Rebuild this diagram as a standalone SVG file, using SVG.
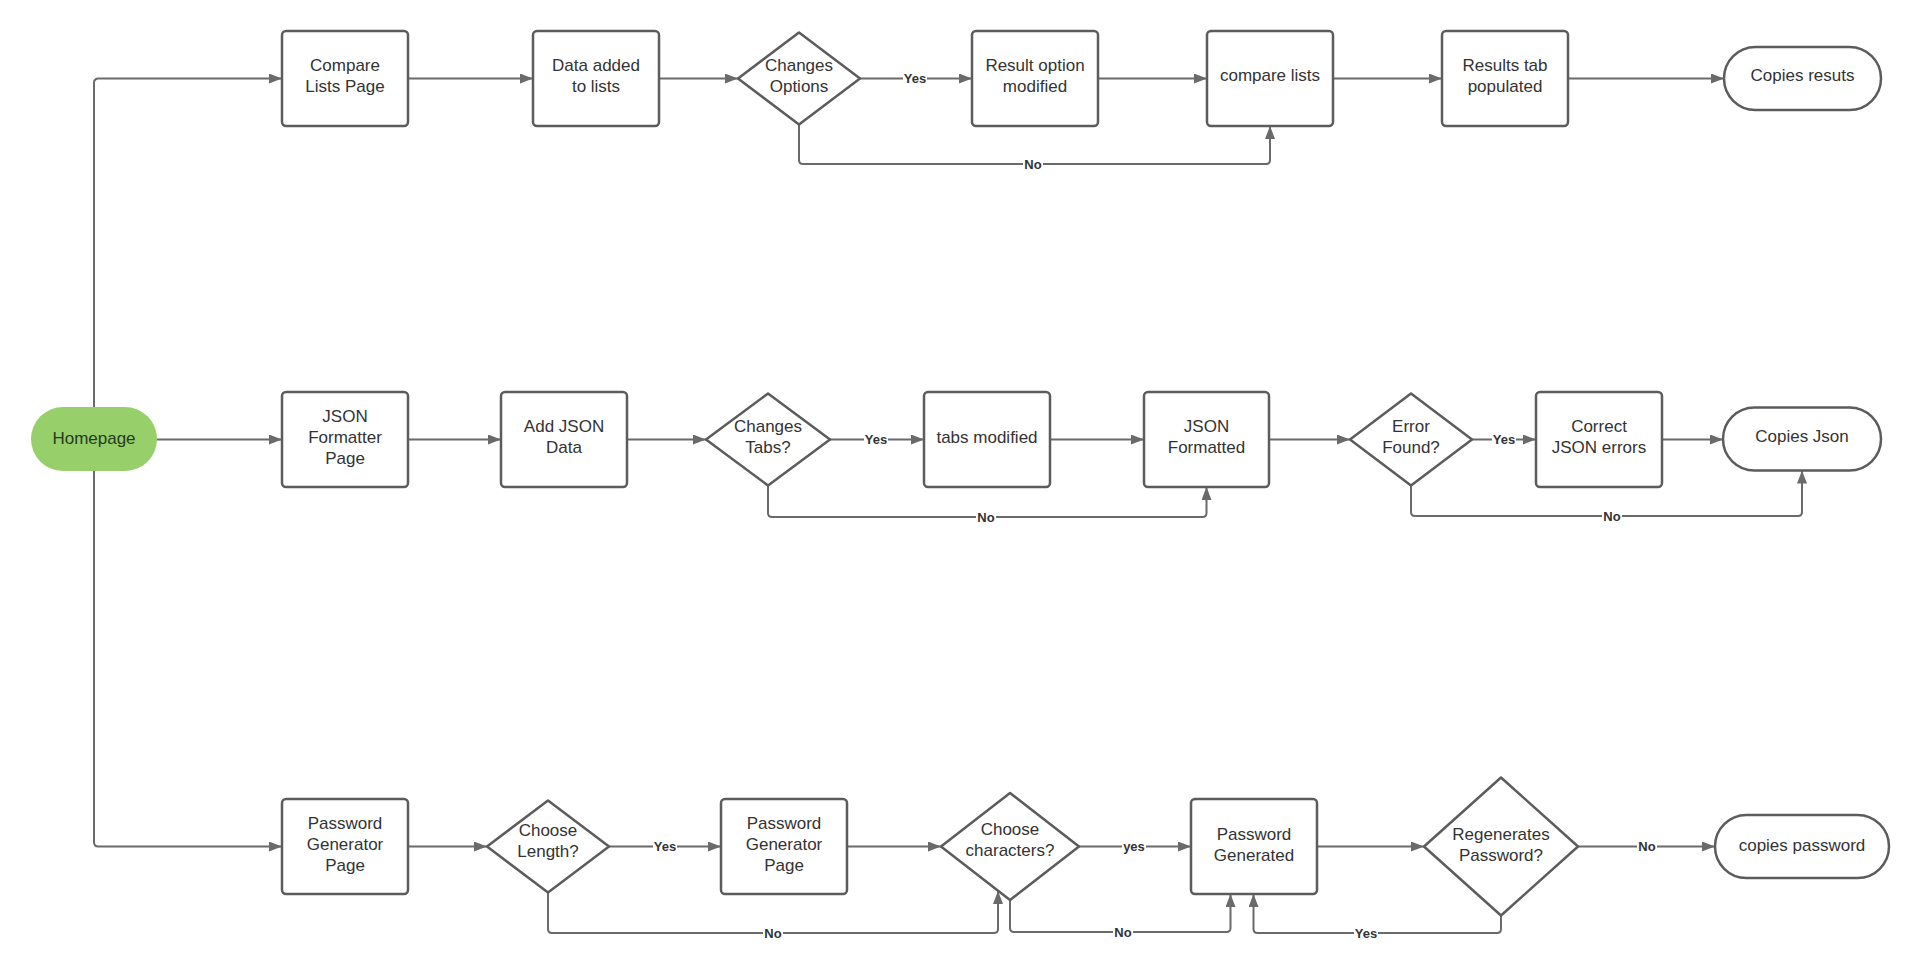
<svg xmlns="http://www.w3.org/2000/svg" width="1920" height="973" viewBox="0 0 1920 973">
<defs>
<style>
.box{fill:#fff;stroke:#5c5c5c;stroke-width:2.5}
.t{font-family:"Liberation Sans",Arial,sans-serif;font-size:17px;fill:#333;text-anchor:middle}
.c{fill:none;stroke:#6a6a6a;stroke-width:2}
.lb{fill:#fff}
.lt{font-family:"Liberation Sans",Arial,sans-serif;font-size:13px;font-weight:bold;fill:#333;text-anchor:middle}
</style>
<marker id="ah" markerUnits="userSpaceOnUse" markerWidth="14" markerHeight="10" refX="13" refY="5" orient="auto">
<path d="M0,0 L13,5 L0,10 z" fill="#6a6a6a"/>
</marker>
</defs>
<rect width="1920" height="973" fill="#fff"/>

<g id="connectors">
<path class="c" marker-end="url(#ah)" d="M94,407 V83 Q94,78.5 98.5,78.5 H282"/>
<path class="c" marker-end="url(#ah)" d="M94,471 V842 Q94,846.5 98.5,846.5 H282"/>
<path class="c" marker-end="url(#ah)" d="M157,439.5 H282"/>
<!-- row 1 -->
<path class="c" marker-end="url(#ah)" d="M408,78.5 H533"/>
<path class="c" marker-end="url(#ah)" d="M659,78.5 H738"/>
<path class="c" marker-end="url(#ah)" d="M860,78.5 H972"/>
<path class="c" marker-end="url(#ah)" d="M1098,78.5 H1207"/>
<path class="c" marker-end="url(#ah)" d="M1333,78.5 H1442"/>
<path class="c" marker-end="url(#ah)" d="M1568,78.5 H1724"/>
<path class="c" marker-end="url(#ah)" d="M799,124.5 V160 Q799,164 803,164 H1266 Q1270,164 1270,160 V126"/>
<!-- row 2 -->
<path class="c" marker-end="url(#ah)" d="M408,439.5 H501"/>
<path class="c" marker-end="url(#ah)" d="M627,439.5 H706"/>
<path class="c" marker-end="url(#ah)" d="M830,439.5 H924"/>
<path class="c" marker-end="url(#ah)" d="M1050,439.5 H1144"/>
<path class="c" marker-end="url(#ah)" d="M1269,439.5 H1350"/>
<path class="c" marker-end="url(#ah)" d="M1472,439.5 H1536"/>
<path class="c" marker-end="url(#ah)" d="M1662,439.5 H1723"/>
<path class="c" marker-end="url(#ah)" d="M768,485.5 V513 Q768,517 772,517 H1202.5 Q1206.5,517 1206.5,513 V487"/>
<path class="c" marker-end="url(#ah)" d="M1411,485.5 V512 Q1411,516 1415,516 H1798 Q1802,516 1802,512 V470.5"/>
<!-- row 3 -->
<path class="c" marker-end="url(#ah)" d="M408,846.5 H487"/>
<path class="c" marker-end="url(#ah)" d="M609,846.5 H721"/>
<path class="c" marker-end="url(#ah)" d="M847,846.5 H941"/>
<path class="c" marker-end="url(#ah)" d="M1079,846.5 H1191"/>
<path class="c" marker-end="url(#ah)" d="M1317,846.5 H1424"/>
<path class="c" marker-end="url(#ah)" d="M1578,846.5 H1715"/>
<path class="c" marker-end="url(#ah)" d="M548,892.5 V929 Q548,933 552,933 H994 Q998,933 998,929 V891"/>
<path class="c" marker-end="url(#ah)" d="M1010,900 V928 Q1010,932 1014,932 H1226.5 Q1230.5,932 1230.5,928 V894"/>
<path class="c" marker-end="url(#ah)" d="M1501,915.5 V929 Q1501,933 1497,933 H1257.5 Q1253.5,933 1253.5,929 V894"/>
<!-- labels -->
<g id="labels">
<rect class="lb" x="903" y="72" width="24" height="13"/><text class="lt" x="915" y="83">Yes</text>
<rect class="lb" x="1023" y="157.5" width="20" height="13"/><text class="lt" x="1033" y="168.5">No</text>
<rect class="lb" x="864" y="433" width="24" height="13"/><text class="lt" x="876" y="444">Yes</text>
<rect class="lb" x="976" y="510.5" width="20" height="13"/><text class="lt" x="986" y="521.5">No</text>
<rect class="lb" x="1492" y="433" width="24" height="13"/><text class="lt" x="1504" y="444">Yes</text>
<rect class="lb" x="1602" y="509.5" width="20" height="13"/><text class="lt" x="1612" y="520.5">No</text>
<rect class="lb" x="653" y="840" width="24" height="13"/><text class="lt" x="665" y="851">Yes</text>
<rect class="lb" x="763" y="926.5" width="20" height="13"/><text class="lt" x="773" y="937.5">No</text>
<rect class="lb" x="1122" y="840" width="24" height="13"/><text class="lt" x="1134" y="851">yes</text>
<rect class="lb" x="1113" y="925.5" width="20" height="13"/><text class="lt" x="1123" y="936.5">No</text>
<rect class="lb" x="1354" y="926.5" width="24" height="13"/><text class="lt" x="1366" y="937.5">Yes</text>
<rect class="lb" x="1637" y="840" width="20" height="13"/><text class="lt" x="1647" y="851">No</text>
</g>
</g>

<g id="homepage">
<rect x="31" y="407" width="126" height="64" rx="32" fill="#97d06b"/>
<text class="t" x="94" y="444" style="fill:#263a1c">Homepage</text>
</g>

<!-- Row 1 -->
<g id="compare-lists-page"><rect class="box" x="282" y="31" width="126" height="95" rx="4"/><text class="t" x="345" y="70.5">Compare</text><text class="t" x="345" y="91.5">Lists Page</text></g>
<g id="data-added"><rect class="box" x="533" y="31" width="126" height="95" rx="4"/><text class="t" x="596" y="70.5">Data added</text><text class="t" x="596" y="91.5">to lists</text></g>
<g id="changes-options"><path class="box" d="M799,32.5 L860,78.5 L799,124.5 L738,78.5 Z" stroke-linejoin="round"/><text class="t" x="799" y="70.5">Changes</text><text class="t" x="799" y="91.5">Options</text></g>
<g id="result-option"><rect class="box" x="972" y="31" width="126" height="95" rx="4"/><text class="t" x="1035" y="70.5">Result option</text><text class="t" x="1035" y="91.5">modified</text></g>
<g id="compare-lists"><rect class="box" x="1207" y="31" width="126" height="95" rx="4"/><text class="t" x="1270" y="81">compare lists</text></g>
<g id="results-tab"><rect class="box" x="1442" y="31" width="126" height="95" rx="4"/><text class="t" x="1505" y="70.5">Results tab</text><text class="t" x="1505" y="91.5">populated</text></g>
<g id="copies-results"><rect class="box" x="1724" y="47" width="157" height="63" rx="31.5"/><text class="t" x="1802.5" y="81">Copies resuts</text></g>

<!-- Row 2 -->
<g id="json-formatter-page"><rect class="box" x="282" y="392" width="126" height="95" rx="4"/><text class="t" x="345" y="421.5">JSON</text><text class="t" x="345" y="442.5">Formatter</text><text class="t" x="345" y="463.5">Page</text></g>
<g id="add-json-data"><rect class="box" x="501" y="392" width="126" height="95" rx="4"/><text class="t" x="564" y="431.5">Add JSON</text><text class="t" x="564" y="452.5">Data</text></g>
<g id="changes-tabs"><path class="box" d="M768,393.5 L830,439.5 L768,485.5 L706,439.5 Z" stroke-linejoin="round"/><text class="t" x="768" y="431.5">Changes</text><text class="t" x="768" y="452.5">Tabs?</text></g>
<g id="tabs-modified"><rect class="box" x="924" y="392" width="126" height="95" rx="4"/><text class="t" x="987" y="442.5">tabs modified</text></g>
<g id="json-formatted"><rect class="box" x="1144" y="392" width="125" height="95" rx="4"/><text class="t" x="1206.5" y="431.5">JSON</text><text class="t" x="1206.5" y="452.5">Formatted</text></g>
<g id="error-found"><path class="box" d="M1411,393.5 L1472,439.5 L1411,485.5 L1350,439.5 Z" stroke-linejoin="round"/><text class="t" x="1411" y="431.5">Error</text><text class="t" x="1411" y="452.5">Found?</text></g>
<g id="correct-json"><rect class="box" x="1536" y="392" width="126" height="95" rx="4"/><text class="t" x="1599" y="431.5">Correct</text><text class="t" x="1599" y="452.5">JSON errors</text></g>
<g id="copies-json"><rect class="box" x="1723" y="407.5" width="158" height="63" rx="31.5"/><text class="t" x="1802" y="442">Copies Json</text></g>

<!-- Row 3 -->
<g id="password-generator-page"><rect class="box" x="282" y="799" width="126" height="95" rx="4"/><text class="t" x="345" y="829">Password</text><text class="t" x="345" y="850">Generator</text><text class="t" x="345" y="871">Page</text></g>
<g id="choose-length"><path class="box" d="M548,800.5 L609,846.5 L548,892.5 L487,846.5 Z" stroke-linejoin="round"/><text class="t" x="548" y="835.5">Choose</text><text class="t" x="548" y="856.5">Length?</text></g>
<g id="password-generator-page-2"><rect class="box" x="721" y="799" width="126" height="95" rx="4"/><text class="t" x="784" y="829">Password</text><text class="t" x="784" y="850">Generator</text><text class="t" x="784" y="871">Page</text></g>
<g id="choose-characters"><path class="box" d="M1010,793 L1079,846.5 L1010,900 L941,846.5 Z" stroke-linejoin="round"/><text class="t" x="1010" y="834.5">Choose</text><text class="t" x="1010" y="855.5">characters?</text></g>
<g id="password-generated"><rect class="box" x="1191" y="799" width="126" height="95" rx="4"/><text class="t" x="1254" y="840">Password</text><text class="t" x="1254" y="861">Generated</text></g>
<g id="regenerates-password"><path class="box" d="M1501,777.5 L1578,846.5 L1501,915.5 L1424,846.5 Z" stroke-linejoin="round"/><text class="t" x="1501" y="840">Regenerates</text><text class="t" x="1501" y="861">Password?</text></g>
<g id="copies-password"><rect class="box" x="1715" y="815" width="174" height="63" rx="31.5"/><text class="t" x="1802" y="851">copies password</text></g>
</svg>
